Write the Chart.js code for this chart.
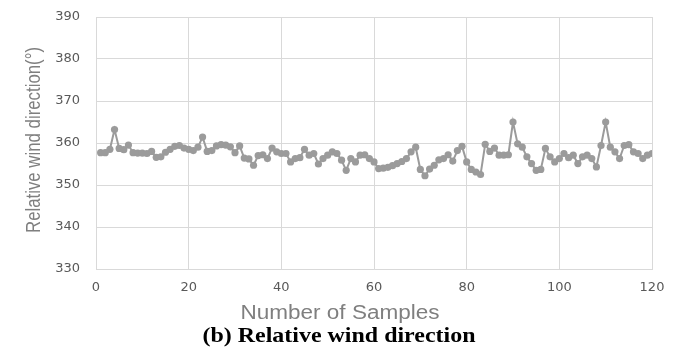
<!DOCTYPE html>
<html lang="en">
<head>
    <meta charset="UTF-8">
    <title>Relative wind direction</title>
    <style>
        html, body {
            margin: 0;
            padding: 0;
            background: #ffffff;
        }
        #wrap {
            width: 678px;
            height: 347px;
        }
    </style>
</head>
<body>
    <div id="wrap">
        <canvas id="windChart" width="678" height="347"></canvas>
    </div>

    <script src="https://cdn.jsdelivr.net/npm/chart.js"></script>
    <script>
        // Relative wind direction (deg), samples 1..120
        const windDir = [
            357.7, 357.7, 358.5, 363.2, 358.7, 358.4, 359.5, 357.7, 357.6, 357.6,
            357.5, 358.0, 356.6, 356.7, 357.8, 358.5, 359.2, 359.4, 358.8, 358.5,
            358.2, 359.0, 361.4, 358.0, 358.2, 359.3, 359.6, 359.5, 359.1, 357.7,
            359.3, 356.4, 356.2, 354.7, 357.0, 357.2, 356.3, 358.8, 357.9, 357.5,
            357.5, 355.5, 356.3, 356.5, 358.5, 357.1, 357.5, 355.0, 356.3, 357.1,
            357.9, 357.5, 355.9, 353.5, 356.3, 355.5, 357.1, 357.2, 356.3, 355.5,
            353.9, 354.0, 354.2, 354.6, 355.1, 355.6, 356.3, 357.9, 359.0, 353.7,
            352.2, 353.8, 354.7, 356.0, 356.3, 357.2, 355.7, 358.2, 359.2, 355.5,
            353.7, 353.1, 352.5, 359.7, 358.0, 358.8, 357.1, 357.1, 357.2, 365.0,
            359.8, 359.0, 356.7, 355.1, 353.5, 353.7, 358.7, 356.7, 355.5, 356.3,
            357.5, 356.5, 357.1, 355.1, 356.7, 357.1, 356.3, 354.3, 359.4, 365.0,
            359.0, 357.9, 356.3, 359.4, 359.6, 357.9, 357.5, 356.3, 357.1, 357.5
        ];

        const xTicks = [0, 20, 40, 60, 80, 100, 120];
        const yTicks = [330, 340, 350, 360, 370, 380, 390];

        const xTitle = 'Number of Samples';
        const yTitle = 'Relative wind direction(°)';
        const caption = '(b) Relative wind direction';

        const points = windDir.map((v, i) => ({ x: i + 1, y: v }));

        const lineGrey = '#9b9b9b';
        const gridGrey = '#d9d9d9';

        // the source figure is stretched sideways, so texts are drawn
        // at a given width around a given centre
        function stretchedText(c, text, font, color, cx, cy, width, rotate) {
            c.save();
            c.font = font;
            c.fillStyle = color;
            c.textAlign = 'center';
            c.textBaseline = 'middle';
            const w = c.measureText(text).width;
            c.translate(cx, cy);
            if (rotate) {
                c.rotate(-Math.PI / 2);
                c.scale(width / w, 1.25);
            } else {
                c.scale(width / w, 1);
            }
            c.fillText(text, 0, 0);
            c.restore();
        }

        const textPlugin = {
            id: 'figTexts',
            afterDraw(chart) {
                const c = chart.ctx;
                stretchedText(c, xTitle, '20px "Liberation Sans"', '#7f7f7f', 340, 313, 199, false);
                stretchedText(c, yTitle, '16px "Liberation Sans"', '#7f7f7f', 34, 140, 186, true);
                stretchedText(c, caption, 'bold 21px "Liberation Serif"', '#000000', 339, 337, 273, false);
            }
        };

        const ctx = document.getElementById('windChart').getContext('2d');
        new Chart(ctx, {
            type: 'line',
            data: {
                datasets: [{
                    label: 'Relative wind direction',
                    data: points,
                    borderColor: lineGrey,
                    backgroundColor: lineGrey,
                    borderWidth: 2,
                    pointRadius: 3.6,
                    pointBorderWidth: 0,
                    pointBackgroundColor: lineGrey,
                    tension: 0
                }]
            },
            options: {
                responsive: false,
                animation: false,
                devicePixelRatio: 1,
                layout: { padding: { top: 17, right: 26, bottom: 0, left: 0 } },
                scales: {
                    x: {
                        type: 'linear',
                        min: xTicks[0],
                        max: xTicks[xTicks.length - 1],
                        afterBuildTicks: s => { s.ticks = xTicks.map(v => ({ value: v })); },
                        afterFit: s => { s.height = 78; },
                        ticks: {
                            color: '#595959',
                            font: { family: 'DejaVu Sans', size: 13 },
                            padding: 11,
                            maxRotation: 0
                        },
                        grid: { color: gridGrey, drawTicks: false },
                        border: { color: gridGrey }
                    },
                    y: {
                        min: yTicks[0],
                        max: yTicks[yTicks.length - 1],
                        afterBuildTicks: s => { s.ticks = yTicks.map(v => ({ value: v })); },
                        afterFit: s => { s.width = 96; s.paddingTop = 0; s.paddingBottom = 0; },
                        ticks: {
                            color: '#595959',
                            font: { family: 'DejaVu Sans', size: 13 },
                            padding: 16
                        },
                        grid: { color: gridGrey, drawTicks: false },
                        border: { color: gridGrey }
                    }
                },
                plugins: {
                    legend: { display: false },
                    tooltip: { enabled: false },
                    title: { display: false }
                }
            },
            plugins: [textPlugin]
        });
    </script>
</body>
</html>
